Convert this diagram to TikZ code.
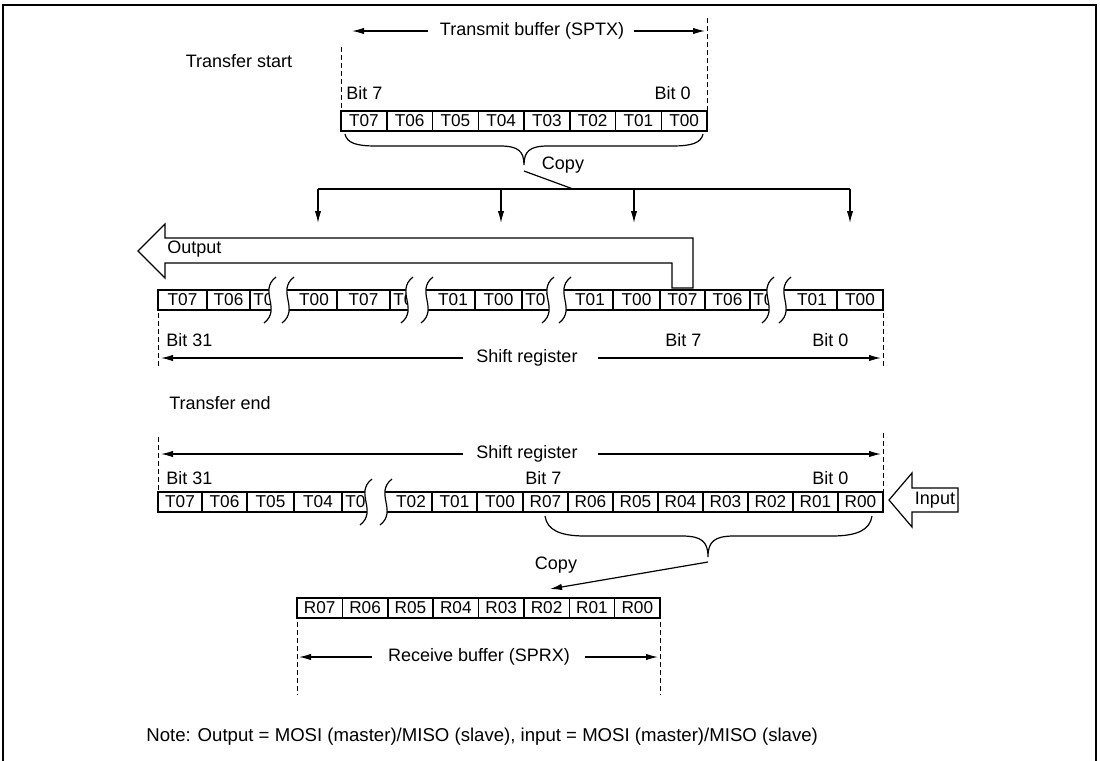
\documentclass[tikz,border=0pt]{standalone}
\usepackage{fontspec}
\setmainfont{Liberation Sans}
\usetikzlibrary{arrows.meta}
\tikzset{
  lbl/.style={font=\fontsize{9}{10}\selectfont, inner sep=0pt},
  ctx/.style={font=\fontsize{8.6}{9}\selectfont, inner sep=0pt},
  notetxt/.style={font=\fontsize{9.3}{10}\selectfont, inner sep=0pt},
  ln/.style={line width=0.6pt},
  dsh/.style={line width=0.5pt, dash pattern=on 2.5pt off 1.5pt},
  arr/.style={ln, -{Latex[length=6pt,width=3.2pt]}},
  boxline/.style={line width=1.3pt},
  sepline/.style={line width=0.75pt},
  framel/.style={line width=1.4pt}
}
\newcommand\brkpair[4]{%
  \fill[white] ({#1+6},{#3-13}) .. controls ({#1-12},{#3+1}) and ({#1+12},{#4-1}) .. ({#1-6},{#4+13})
     -- ({#2-6},{#4+13}) .. controls ({#2+12},{#4-1}) and ({#2-12},{#3+1}) .. ({#2+6},{#3-13}) -- cycle;
  \draw[ln] ({#1+6},{#3-13}) .. controls ({#1-12},{#3+1}) and ({#1+12},{#4-1}) .. ({#1-6},{#4+13});
  \draw[ln] ({#2+6},{#3-13}) .. controls ({#2-12},{#3+1}) and ({#2+12},{#4-1}) .. ({#2-6},{#4+13});
}
\begin{document}
\begin{tikzpicture}[x=0.5pt,y=-0.5pt]
\useasboundingbox (0,0) rectangle (1100,761);
\draw[framel] (3,761) -- (3,5) -- (1096,5) -- (1096,761);

% ---------- transmit buffer ----------
\node[lbl] (tbtxt) at (532,31) {Transmit buffer (SPTX)};
\coordinate (tbLa) at (428,31); \coordinate (tbLb) at (352,31);
\coordinate (tbRa) at (634,31); \coordinate (tbRb) at (705,31);
\draw[arr] (tbLa) -- (tbLb);
\draw[arr] (tbRa) -- (tbRb);
\draw[dsh] (341,47) -- (341,111);
\draw[dsh] (707,18) -- (707,111);
\node[lbl] (tstart) at (239,61) {Transfer start};
\node[lbl,anchor=west] (b7a) at (346,93) {Bit 7};
\node[lbl,anchor=east] (b0a) at (691,93) {Bit 0};

\draw[boxline] (341,111) rectangle (707,131);
\foreach \i in {1,...,7} \draw[sepline] ({341+\i*45.75},111) -- ({341+\i*45.75},131);
\foreach \lab [count=\i from 0] in {T07,T06,T05,T04,T03,T02,T01,T00}
  \node[ctx] (tx\i) at ({341+(\i+0.5)*45.75},121) {\lab};

% brace + copy
\draw[ln] (345,134) .. controls (347,143) and (356,146) .. (376,146) -- (500,146)
  .. controls (518,146) and (524,151) .. (524,165)
  .. controls (524,151) and (530,146) .. (548,146) -- (672,146)
  .. controls (692,146) and (701,143) .. (703,134);
\node[lbl] (copy1) at (563,165) {Copy};
\coordinate (cpA) at (524,171); \coordinate (cpB) at (573,189);
\coordinate (hL) at (318,189); \coordinate (hR) at (850,189);
\draw[ln] (cpA) -- (cpB);
\draw[ln] (hL) -- (hR);
\foreach \x [count=\k] in {318,501,634,850} {
  \coordinate (dA\k) at (\x,189); \coordinate (dB\k) at (\x,223);
  \draw[arr] (dA\k) -- (dB\k);
}

% output arrow
\draw[ln] (138,251) -- (165,224) -- (165,238) -- (693,238) -- (693,288) -- (672,288)
  -- (672,263) -- (165,263) -- (165,278) -- cycle;
\node[lbl,anchor=west] (outl) at (167,249) {Output};

% ---------- shift register (start) ----------
\draw[boxline] (158,290) rectangle (883,310);
\foreach \x in {207,250,337,390,475,522,613,660,705,750,837}
  \draw[sepline] (\x,290) -- (\x,310);
\node[ctx] (s1) at (182.5,300) {T07};
\node[ctx] (s2) at (228.5,300) {T06};
\node[ctx,anchor=west] (s3) at (253,300) {T05};
\node[ctx] (s4) at (314,300) {T00};
\node[ctx] (s5) at (363.5,300) {T07};
\node[ctx,anchor=west] (s6) at (393,300) {T06};
\node[ctx] (s7) at (453,300) {T01};
\node[ctx] (s8) at (498.5,300) {T00};
\node[ctx,anchor=west] (s9) at (525,300) {T07};
\node[ctx] (s10) at (590,300) {T01};
\node[ctx] (s11) at (636.5,300) {T00};
\node[ctx] (s12) at (682.5,300) {T07};
\node[ctx] (s13) at (727.5,300) {T06};
\node[ctx,anchor=west] (s14) at (753,300) {T05};
\node[ctx] (s15) at (812,300) {T01};
\node[ctx] (s16) at (860,300) {T00};
\brkpair{270}{288}{290}{310}
\brkpair{407}{427}{290}{310}
\brkpair{548}{565}{290}{310}
\brkpair{768}{785}{290}{310}

\node[lbl,anchor=west] (b31b) at (166,340) {Bit 31};
\node[lbl,anchor=west] (b7b) at (665,340) {Bit 7};
\node[lbl,anchor=west] (b0b) at (812,340) {Bit 0};
\draw[dsh] (158,313) -- (158,368);
\draw[dsh] (883,313) -- (883,368);
\node[lbl] (srtxt1) at (527,358) {Shift register};
\coordinate (s1La) at (463,358); \coordinate (s1Lb) at (161,358);
\coordinate (s1Ra) at (598,358); \coordinate (s1Rb) at (881,358);
\draw[arr] (s1La) -- (s1Lb);
\draw[arr] (s1Ra) -- (s1Rb);

% ---------- transfer end ----------
\node[lbl] (tend) at (220,403) {Transfer end};
\draw[dsh] (158,437) -- (158,492);
\draw[dsh] (883,433) -- (883,492);
\node[lbl] (srtxt2) at (527,454) {Shift register};
\coordinate (s2La) at (463,454); \coordinate (s2Lb) at (161,454);
\coordinate (s2Ra) at (598,454); \coordinate (s2Rb) at (881,454);
\draw[arr] (s2La) -- (s2Lb);
\draw[arr] (s2Ra) -- (s2Rb);
\node[lbl,anchor=west] (b31c) at (166,478) {Bit 31};
\node[lbl,anchor=west] (b7c) at (525,478) {Bit 7};
\node[lbl,anchor=west] (b0c) at (812,478) {Bit 0};

\draw[boxline] (158,492) rectangle (883,512);
\foreach \x in {202,247,294,342,432,477,523,568,613,658,703,748,793,838}
  \draw[sepline] (\x,492) -- (\x,512);
\node[ctx] (e1) at (180,502) {T07};
\node[ctx] (e2) at (224.5,502) {T06};
\node[ctx] (e3) at (270.5,502) {T05};
\node[ctx] (e4) at (318,502) {T04};
\node[ctx,anchor=west] (e5) at (345,502) {T03};
\node[ctx] (e6) at (411,502) {T02};
\node[ctx] (e7) at (454.5,502) {T01};
\node[ctx] (e8) at (500,502) {T00};
\foreach \lab [count=\i from 0] in {R07,R06,R05,R04,R03,R02,R01,R00}
  \node[ctx] (er\i) at ({523+(\i+0.5)*45},502) {\lab};
\brkpair{366}{386}{492}{512}

% input arrow
\draw[ln] (889,500) -- (912,473) -- (912,488) -- (958,488) -- (958,512) -- (912,512) -- (912,527) -- cycle;
\node[lbl] (inl) at (935,500) {Input};

% brace + copy (bottom)
\draw[ln] (545,516) .. controls (547,530) and (560,536) .. (585,536) -- (682,536)
  .. controls (702,536) and (708,542) .. (708,557)
  .. controls (708,542) and (714,536) .. (734,536) -- (832,536)
  .. controls (857,536) and (870,530) .. (872,516);
\node[lbl] (copy2) at (556,565) {Copy};
\coordinate (cp2A) at (708,562); \coordinate (cp2B) at (550,589);
\draw[arr] (cp2A) -- (cp2B);

% ---------- receive buffer ----------
\draw[boxline] (297,598) rectangle (660,618);
\foreach \i in {1,...,7} \draw[sepline] ({297+\i*45.375},598) -- ({297+\i*45.375},618);
\foreach \lab [count=\i from 0] in {R07,R06,R05,R04,R03,R02,R01,R00}
  \node[ctx] (rx\i) at ({297+(\i+0.5)*45.375},608) {\lab};
\draw[dsh] (297,622) -- (297,695);
\draw[dsh] (660,622) -- (660,695);
\node[lbl] (rbtxt) at (479,657) {Receive buffer (SPRX)};
\coordinate (rbLa) at (372,657); \coordinate (rbLb) at (299,657);
\coordinate (rbRa) at (585,657); \coordinate (rbRb) at (658,657);
\draw[arr] (rbLa) -- (rbLb);
\draw[arr] (rbRa) -- (rbRb);

\node[notetxt,anchor=west] (note) at (146,737) {Note: Output = MOSI (master)/MISO (slave), input = MOSI (master)/MISO (slave)};
\end{tikzpicture}
\end{document}
